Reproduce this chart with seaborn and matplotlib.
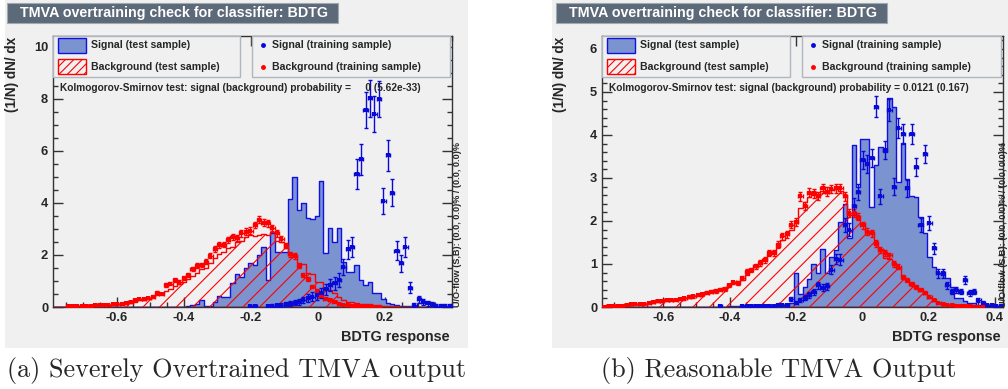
import numpy as np
import pandas as pd
import matplotlib
matplotlib.use("Agg")
import matplotlib.pyplot as plt
from matplotlib.patches import Rectangle
from matplotlib.lines import Line2D
from matplotlib.ticker import FixedLocator, MultipleLocator, FuncFormatter
import seaborn as sns

# ------------------------------------------------------------------ data
NBINS = 90
left_range = (-0.79, 0.40)
right_range = (-0.785, 0.425)

left_sig_test = [0] * 30 + [
    0.05, 0.08, 0.10, 0.27, 0.05, 0.05, 0.20, 0.42, 0.40, 0.40,
    0.93, 1.27, 1.15, 1.50, 1.68, 1.60, 2.00, 2.30, 1.04, 2.86,
    2.13, 2.13, 2.13, 4.14, 4.99, 3.73, 3.99, 3.41, 3.37, 3.50,
    4.84, 2.06, 3.05, 2.51, 3.05, 1.74, 1.33, 1.33, 1.62, 1.04,
    0.85, 0.95, 0.53, 0.53, 0.30, 0.15, 0.10, 0.08, 0.05, 0.04,
    0.03, 0.02, 0.01] + [0] * 7
left_bkg_test = [0] * 4 + [
    0.02, 0.03, 0.03, 0.04, 0.05, 0.05, 0.06, 0.07, 0.08, 0.09, 0.10, 0.11, 0.13,
    0.15, 0.20, 0.25, 0.28, 0.32, 0.38, 0.45, 0.55, 0.62, 0.70, 0.80, 0.88, 0.98,
    1.08, 1.20, 1.30, 1.45, 1.50, 1.70, 1.90, 2.05, 2.10, 2.25, 2.30, 2.50, 2.55,
    2.70, 2.75, 2.72, 2.75, 2.80, 2.78, 2.90, 2.55, 2.50, 2.26, 2.00, 1.95, 1.70,
    1.65, 1.30, 1.25, 0.97, 0.95, 0.65, 0.65, 0.55, 0.40, 0.28, 0.20, 0.18, 0.15,
    0.12, 0.10, 0.10, 0.08, 0.06, 0.05, 0.04, 0.03, 0.02] + [0] * 12
left_bkg_train = [0] * 3 + [
    0.03, 0.03, 0.04, 0.04, 0.05, 0.05, 0.06, 0.07, 0.08, 0.09, 0.10, 0.12, 0.13, 0.15,
    0.20, 0.28, 0.32, 0.32, 0.33, 0.40, 0.55, 0.50, 0.85, 0.90, 1.04, 0.95, 1.10,
    1.23, 1.46, 1.59, 1.62, 1.74, 1.97, 2.23, 2.38, 2.40, 2.58, 2.70, 2.64, 2.83,
    2.90, 2.94, 3.15, 3.35, 3.24, 3.22, 3.03, 2.83, 2.62, 2.36, 2.03, 1.96, 1.58,
    1.23, 1.08, 0.78, 0.63, 0.43, 0.31, 0.27, 0.18, 0.12, 0.08, 0.06, 0.05, 0.04,
    0.03, 0.02, 0.02, 0.01, 0.01] + [0] * 16
left_sig_train = [0] * 44 + [
    0.04, 0.04, 0.00, 0.00, 0.04, 0.05, 0.06, 0.08, 0.10, 0.13, 0.17, 0.20, 0.27,
    0.35, 0.40, 0.45, 0.55, 0.68, 0.83, 0.91, 1.04, 1.55, 2.22, 2.32, 5.12, 5.69,
    7.58, 8.03, 7.42, 8.00, 4.08, 5.83, 4.40, 2.17, 1.68, 2.32, 0.74, 0.08, 0.30,
    0.19, 0.14, 0.12, 0.05, 0.05, 0.05, 0.05]

right_sig_test = [0] * 28 + [0.02] * 8 + [0.05] * 6 + [
    0.10, 0.78, 0.30, 0.47, 0.66, 1.00, 0.80, 1.34, 0.80, 1.17, 1.33, 1.98,
    2.40, 1.60, 3.77, 2.80, 3.90, 3.90, 2.33, 3.30, 3.71, 3.60, 4.85, 4.66,
    2.91, 3.81, 2.98, 2.58, 2.56, 2.10, 1.71, 1.17, 0.94, 0.80, 0.74, 0.68,
    0.47, 0.20, 0.20, 0.15, 0.10, 0.10, 0.05, 0.05, 0.03, 0.02, 0.01, 0.00]
right_bkg_test = [
    0.01, 0.01, 0.02, 0.02, 0.03, 0.04, 0.05, 0.06, 0.07, 0.08, 0.09, 0.10, 0.12,
    0.13, 0.15, 0.16, 0.17, 0.18, 0.20, 0.22, 0.25, 0.27, 0.30, 0.32, 0.34, 0.37,
    0.40, 0.45, 0.50,
    0.55, 0.58, 0.62, 0.75, 0.85, 0.92, 1.00, 1.10, 1.20, 1.30, 1.40, 1.55, 1.70,
    1.80, 1.95, 2.30, 2.45, 2.55, 2.60, 2.62, 2.70, 2.65, 2.72, 2.75, 2.70, 2.60,
    2.15, 2.15, 2.05, 1.95, 1.75, 1.70, 1.45, 1.35, 1.15, 1.12, 1.00, 0.90, 0.72,
    0.62, 0.52, 0.45, 0.38, 0.30, 0.22, 0.15, 0.10, 0.07, 0.05, 0.04, 0.03, 0.03,
    0.02, 0.02, 0.01, 0.01, 0.01] + [0] * 4
right_bkg_train = [
    0.01, 0.02, 0.02, 0.03, 0.03, 0.05, 0.06, 0.07, 0.07, 0.08, 0.10, 0.11, 0.13,
    0.14, 0.16, 0.16, 0.17, 0.18, 0.20, 0.24, 0.25, 0.28, 0.30, 0.33, 0.35, 0.37,
    0.40, 0.42, 0.50,
    0.57, 0.55, 0.67, 0.82, 0.86, 0.95, 1.02, 1.09, 1.25, 1.26, 1.45, 1.64, 1.69,
    1.91, 1.98, 2.57, 2.35, 2.66, 2.64, 2.58, 2.76, 2.68, 2.74, 2.76, 2.76, 2.57,
    2.18, 2.18, 2.10, 1.90, 1.75, 1.71, 1.48, 1.33, 1.25, 1.20, 1.00, 0.94, 0.70,
    0.63, 0.53, 0.47, 0.40, 0.33, 0.24, 0.16, 0.10, 0.06, 0.05, 0.04, 0.03, 0.03,
    0.02, 0.02, 0.01, 0.01, 0.01] + [0] * 4
right_sig_train = [0] * 26 + [
    0.02, 0.00, 0.00, 0.00, 0.00, 0.02, 0.02, 0.02, 0.02, 0.03, 0.03, 0.03, 0.03,
    0.04, 0.05, 0.05,
    0.18, 0.10, 0.17, 0.22, 0.28, 0.34, 0.50, 0.45, 0.48, 0.87, 1.12, 1.10, 1.90,
    1.80, 2.35, 2.68, 3.42,
    3.33, 3.46, 4.66, 2.57, 3.65, 4.58, 2.80, 4.16, 4.02, 2.76, 4.02, 3.26, 1.91,
    3.56, 1.95, 1.36, 0.78, 0.78, 0.50, 0.36, 0.40, 0.36, 0.63, 0.32, 0.36, 0.16,
    0.10, 0.05, 0.05, 0.03, 0.02]

# number of training events (sets the statistical error bars)
left_n_sig_train, left_n_bkg_train = 1210, 15000
right_n_sig_train, right_n_bkg_train = 5600, 20000

left_xticks = [-0.6, -0.4, -0.2, 0, 0.2]
right_xticks = [-0.6, -0.4, -0.2, 0, 0.2, 0.4]
left_yticks = [0, 2, 4, 6, 8, 10]
right_yticks = [0, 1, 2, 3, 4, 5, 6]

title_text = "TMVA overtraining check for classifier: BDTG"
legend_labels = ["Signal (test sample)", "Background (test sample)",
                 "Signal (training sample)", "Background (training sample)"]
left_ks = "Kolmogorov-Smirnov test: signal (background) probability =     0 (5.62e-33)"
right_ks = "Kolmogorov-Smirnov test: signal (background) probability = 0.0121 (0.167)"
uo_text = "U/O-flow (S,B): (0.0, 0.0)% / (0.0, 0.0)%"
y_title = "(1/N) dN/ dx"
x_title = "BDTG response"
captions = ["(a) Severely Overtrained TMVA output", "(b) Reasonable TMVA Output"]

# ------------------------------------------------------------------ style
W, H = 1008, 389
def fx(px): return px / W
def fy(py): return 1 - py / H

sns.set_style("ticks")
plt.rcParams.update({
    "font.family": ["Liberation Sans", "DejaVu Sans"],
    "font.weight": "bold",
    "axes.unicode_minus": False,
    "hatch.linewidth": 0.8,
    "hatch.color": "#ff0000",
})

GREY = "#f0f0f0"
SIG_FILL = "#7b93cf"
SIG_EDGE = "#1010e0"
SIG_PT = "#0a0ad8"
BKG = "#ff0000"
TITLE_BG = "#5c6979"
CLEAR = (1, 1, 1, 0)

fig = plt.figure(figsize=(W / 100, H / 100), dpi=100)
fig.patch.set_facecolor("white")

panels = [
    dict(rng=left_range, sig_test=left_sig_test, bkg_test=left_bkg_test,
         sig_train=left_sig_train, bkg_train=left_bkg_train,
         n_sig=left_n_sig_train, n_bkg=left_n_bkg_train,
         xticks=left_xticks, yticks=left_yticks, ymax=10.42, yminor=0.5,
         ks=left_ks, caption=captions[0],
         bg=(5, 0, 468, 348), ax=(53, 36, 452, 307), title=(7, 3, 338, 23),
         ylab_x=12.5, uo_x=457, cap_x=237),
    dict(rng=right_range, sig_test=right_sig_test, bkg_test=right_bkg_test,
         sig_train=right_sig_train, bkg_train=right_bkg_train,
         n_sig=right_n_sig_train, n_bkg=right_n_bkg_train,
         xticks=right_xticks, yticks=right_yticks, ymax=6.3, yminor=0.2,
         ks=right_ks, caption=captions[1],
         bg=(552, 0, 1008, 348), ax=(602, 36, 1003, 307), title=(556, 3, 887, 23),
         ylab_x=560, uo_x=1004, cap_x=779),
]

def fmt(v, pos):
    v = round(v, 6) + 0.0
    return f"{v:g}"

for p in panels:
    # grey canvas
    x0, y0, x1, y1 = p["bg"]
    fig.add_artist(Rectangle((fx(x0), fy(y1)), fx(x1) - fx(x0), fy(y0) - fy(y1),
                             transform=fig.transFigure, facecolor=GREY,
                             edgecolor="none", zorder=0))
    # title box
    x0, y0, x1, y1 = p["title"]
    fig.add_artist(Rectangle((fx(x0), fy(y1)), fx(x1) - fx(x0), fy(y0) - fy(y1),
                             transform=fig.transFigure, facecolor=TITLE_BG,
                             edgecolor="#a0a8b0", lw=0.8, zorder=1))
    fig.text(fx(x0 + 13), fy((y0 + y1) / 2), title_text, color="white",
             fontsize=10.3, weight="bold", ha="left", va="center", zorder=2)

    a0, b0, a1, b1 = p["ax"]
    ax = fig.add_axes([fx(a0), fy(b1), fx(a1) - fx(a0), fy(b0) - fy(b1)])
    ax.set_facecolor(GREY)

    lo, hi = p["rng"]
    edges = np.linspace(lo, hi, NBINS + 1)
    centers = 0.5 * (edges[:-1] + edges[1:])
    dx = edges[1] - edges[0]
    bin_list = [float(e) for e in edges]

    sig_df = pd.DataFrame({"x": centers, "w": np.asarray(p["sig_test"], float)})
    bkg_df = pd.DataFrame({"x": centers, "w": np.asarray(p["bkg_test"], float)})
    sns.histplot(data=sig_df, x="x", weights="w", bins=bin_list, element="step",
                 fill=True, color=SIG_FILL, facecolor=SIG_FILL, edgecolor=SIG_EDGE,
                 linewidth=1.0, alpha=1, ax=ax, zorder=2)
    sns.histplot(data=bkg_df, x="x", weights="w", bins=bin_list, element="step",
                 fill=True, color=BKG, facecolor=CLEAR, edgecolor=BKG, hatch="//",
                 linewidth=1.0, alpha=1, ax=ax, zorder=3)

    for vals, n, col in ((p["bkg_train"], p["n_bkg"], BKG),
                         (p["sig_train"], p["n_sig"], SIG_PT)):
        vals = np.asarray(vals, float)
        m = vals > 0
        err = np.sqrt(vals / (n * dx))
        ax.errorbar(centers[m], vals[m], xerr=dx / 2, yerr=err[m], fmt="none",
                    ecolor=col, elinewidth=1.0, capsize=1.5, capthick=1.0, zorder=4)
        sns.scatterplot(x=centers[m], y=vals[m], marker="s", s=11, color=col,
                        edgecolor=col, linewidth=0, ax=ax, zorder=5)

    ax.set_xlim(lo, hi)
    ax.set_ylim(0, p["ymax"])
    ax.set_xlabel("")
    ax.set_ylabel("")
    ax.xaxis.set_major_locator(FixedLocator(p["xticks"]))
    ax.xaxis.set_minor_locator(MultipleLocator(0.05))
    ax.yaxis.set_major_locator(FixedLocator(p["yticks"]))
    ax.yaxis.set_minor_locator(MultipleLocator(p["yminor"]))
    ax.xaxis.set_major_formatter(FuncFormatter(fmt))
    ax.yaxis.set_major_formatter(FuncFormatter(fmt))
    ax.tick_params(which="both", direction="in", top=True, right=True,
                   color="#333333", width=1.0)
    ax.tick_params(which="major", length=7, labelsize=9.3, pad=3.5)
    ax.tick_params(which="minor", length=3.5)
    for lab in ax.get_xticklabels() + ax.get_yticklabels():
        lab.set_fontweight("bold")
    for s in ax.spines.values():
        s.set_color("#333333")
        s.set_linewidth(1.0)
        s.set_visible(True)

    # legend boxes
    ax.add_patch(Rectangle((0.0, 0.849), 0.469, 0.151, transform=ax.transAxes,
                           facecolor=GREY, edgecolor="#b0b6bd", lw=1.0, zorder=6,
                           clip_on=False))
    ax.add_patch(Rectangle((0.499, 0.849), 0.497, 0.151, transform=ax.transAxes,
                           facecolor=GREY, edgecolor="#b0b6bd", lw=1.0, zorder=6,
                           clip_on=False))
    ax.add_patch(Rectangle((0.0125, 0.937), 0.0705, 0.056, transform=ax.transAxes,
                           facecolor=SIG_FILL, edgecolor=SIG_EDGE, lw=1.0, zorder=7))
    ax.add_patch(Rectangle((0.0125, 0.86), 0.0705, 0.055, transform=ax.transAxes,
                           facecolor=GREY, edgecolor=BKG, hatch="////", lw=1.0, zorder=7))
    ax.add_line(Line2D([0.526], [0.965], transform=ax.transAxes, marker="o",
                       ms=2.5, color=SIG_PT, ls="none", zorder=7))
    ax.add_line(Line2D([0.526], [0.887], transform=ax.transAxes, marker="o",
                       ms=2.5, color=BKG, ls="none", zorder=7))
    for (tx, ty), lab in zip([(0.095, 0.965), (0.095, 0.887), (0.549, 0.965), (0.549, 0.887)],
                             legend_labels):
        ax.text(tx, ty, lab, transform=ax.transAxes, fontsize=7.6, weight="bold",
                ha="left", va="center", zorder=8)
    ax.text(0.0175, 0.808, p["ks"], transform=ax.transAxes, fontsize=7.3,
            weight="bold", ha="left", va="center", zorder=8)
    fig.text(fx(p["uo_x"]), fy(b1), uo_text, rotation=90, fontsize=6.6,
             weight="bold", ha="center", va="bottom", zorder=8)

    fig.text(fx(p["ylab_x"]), fy(37), y_title, rotation=90, fontsize=9.8,
             weight="bold", ha="center", va="top")
    fig.text(fx(a1 - 2), fy(337.5), x_title, fontsize=10.4, weight="bold",
             ha="right", va="center")
    fig.text(fx(p["cap_x"]), fy(371), p["caption"], family="cmr10",
             weight="normal", fontsize=18.8, ha="center", va="center")

fig.savefig("out.png", dpi=100, facecolor="white")
